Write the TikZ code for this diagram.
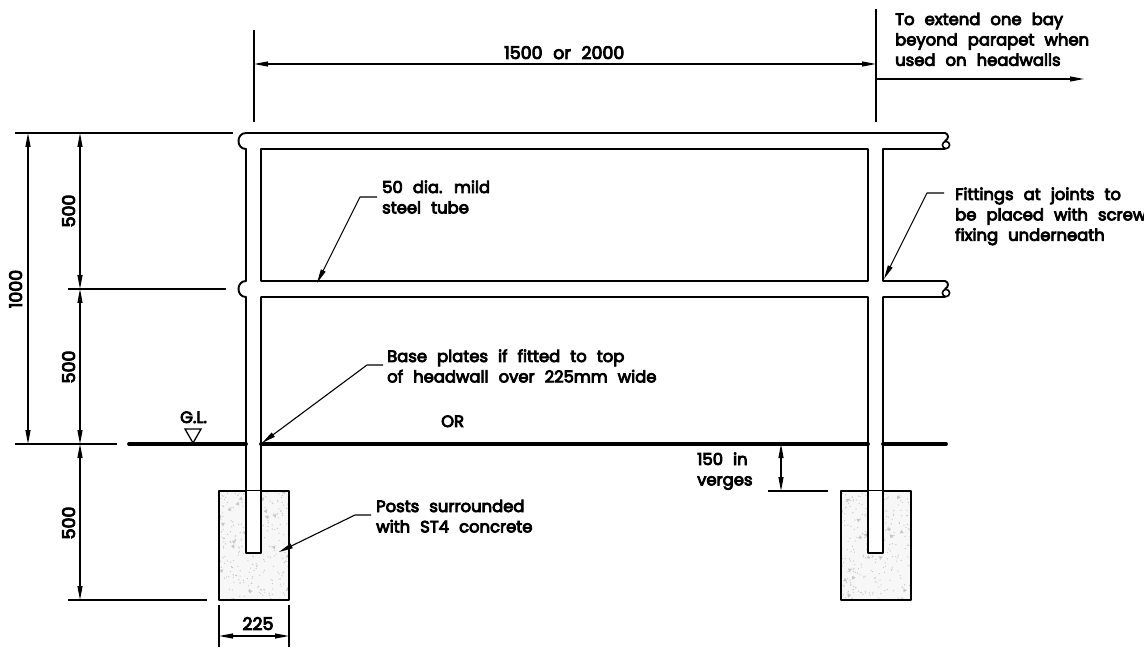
\documentclass[tikz,border=0pt]{standalone}
\usepackage{fontspec}
\setmainfont{Poppins}[WordSpace=2.3,FakeBold=5]
\usetikzlibrary{arrows.meta}
\newcommand{\stackedlines}[1]{\vtop{\baselineskip=20.4pt\lineskiplimit=-20pt #1}}
\newcommand{\stippleblock}[4]{%
  \begin{scope}
    \clip (#1,#2) rectangle (#3,#4);
    \fill[concrete] (#1,#2) rectangle (#3,#4);
    \foreach \k in {1,...,240}{
      \pgfmathsetmacro{\px}{#1+rnd*(#3-#1)}
      \pgfmathsetmacro{\py}{#2+rnd*(#4-#2)}
      \fill[speck] (\px,\py) circle (0.65);
    }
    \foreach \k in {1,...,20}{
      \pgfmathsetmacro{\px}{#1+rnd*(#3-#1)}
      \pgfmathsetmacro{\py}{#2+rnd*(#4-#2)}
      \pgfmathsetmacro{\pa}{rnd*360}
      \fill[speck] (\px,\py) ++(\pa:2.4) -- ++(\pa+120:4) -- ++(\pa+240:4) -- cycle;
    }
  \end{scope}}
\definecolor{concrete}{gray}{0.97}
\definecolor{speck}{gray}{0.78}
\tikzset{
  x=1pt,y=-1pt,
  outline/.style={line width=1.9pt,line join=round,line cap=round,black},
  ground/.style={line width=3.8pt,line cap=round,black},
  thinline/.style={line width=1.1pt,black},
  dimline/.style={line width=1.1pt,black,{Triangle[length=14pt,width=5pt]}-{Triangle[length=14pt,width=5pt]}},
  leader/.style={line width=1.1pt,black,line join=round,-{Triangle[length=14pt,width=5pt]}},
  label/.style={inner sep=0pt,anchor=base west,font=\fontsize{16.4pt}{20pt}\selectfont},
  dimlabel/.style={inner sep=0pt,anchor=base,font=\fontsize{17.4pt}{20pt}\selectfont},
}
\begin{document}
\begin{tikzpicture}
\useasboundingbox (0,0) rectangle (1144,652);
\pgfmathsetseed{4242}
% concrete
\stippleblock{219}{491}{289}{600}
\stippleblock{841}{491}{911}{600}
\draw[outline] (219,491) rectangle (289,600);
\draw[outline] (841,491) rectangle (911,600);
% ground
\coordinate (gA) at (129,444); \coordinate (gB) at (246,444);
\coordinate (gC) at (261,444); \coordinate (gD) at (868,444);
\coordinate (gE) at (883,444); \coordinate (gF) at (946,444);
\draw[ground] (gA) -- (gB) (gC) -- (gD) (gE) -- (gF);
% posts (white interior below ground)
\fill[white] (246,491) rectangle (261,553);
\fill[white] (868,491) rectangle (883,553);
% frame
\draw[outline] (246,149) .. controls (236,149) and (236,133) .. (246,133)
  -- (945,133) .. controls (949,134) and (949,139) .. (945,141);
\draw[outline,line width=1.6pt] (946,145) circle (3.6);
\draw[outline] (246,149) -- (246,281) .. controls (236,281) and (236,297) .. (246,297)
  -- (246,553) -- (261,553) -- (261,297) -- (868,297) -- (868,553) -- (883,553) -- (883,297) -- (945,297);
\draw[outline] (261,149) rectangle (868,281);
\draw[outline] (883,149) -- (883,281) -- (945,281)
  .. controls (949,282) and (949,287) .. (945,289);
\draw[outline,line width=1.6pt] (946,293) circle (3.6);
\draw[outline] (883,149) -- (945,149);
% extension lines
\draw[thinline] (15,133) -- (233,133);
\draw[thinline] (68,289) -- (226,289);
\draw[thinline] (15,444) -- (117,444);
\draw[thinline] (68,600) -- (207,600);
\draw[thinline] (254,30) -- (254,122);
\draw[thinline] (876,9) -- (876,122);
\draw[thinline] (219,605) -- (219,647);
\draw[thinline] (289,605) -- (289,647);
\draw[thinline] (768,491) -- (828,491);
% dimension anchors
\coordinate (dTopL) at (254,64); \coordinate (dTopR) at (876,64);
\coordinate (dExtA) at (876,79); \coordinate (dExtB) at (1084,79);
\coordinate (d1000a) at (28,133); \coordinate (d1000b) at (28,444);
\coordinate (d5a) at (80,133); \coordinate (d5b) at (80,289);
\coordinate (d5c) at (80,444); \coordinate (d5d) at (80,600);
\coordinate (d225a) at (219,636); \coordinate (d225b) at (289,636);
\coordinate (d150a) at (781,444); \coordinate (d150b) at (781,491);
\draw[dimline] (dTopL) -- (dTopR);
\draw[leader] (dExtA) -- (dExtB);
\draw[dimline] (d1000a) -- (d1000b);
\draw[dimline] (d5a) -- (d5b);
\draw[dimline] (d5b) -- (d5c);
\draw[dimline] (d5c) -- (d5d);
\draw[dimline] (d225a) -- (d225b);
\draw[dimline] (d150a) -- (d150b);
% G.L.
\coordinate (glA) at (185,429); \coordinate (glB) at (201,429); \coordinate (glC) at (193,443);
\draw[line width=1.3pt,line join=miter] (glA) -- (glB) -- (glC) -- cycle;
% labels
\node[label] (lbTop) at (504,59) {\fontsize{17.4pt}{20pt}\selectfont 1500 or 2000};
\node[label] (lbBay) at (895,25) {\stackedlines{\hbox{To extend one bay}\hbox{beyond parapet when}\hbox{used on headwalls}}};
\node[label] (lbTube) at (382,193) {\stackedlines{\hbox{50 dia. mild}\hbox{steel tube}}};
\node[label] (lbFit) at (955,200) {\stackedlines{\hbox{Fittings at joints to}\hbox{be placed with screw}\hbox{fixing underneath}}};
\node[label] (lbBase) at (387,362) {\stackedlines{\hbox{Base plates if fitted to top}\hbox{of headwall over 225mm wide}}};
\node[label] (lbOr) at (441,427) {OR};
\node[label] (lbGL) at (180,423) {G.L.};
\node[label] (lbPosts) at (376,512) {\stackedlines{\hbox{Posts surrounded}\hbox{with ST4 concrete}}};
\node[label] (lbVerge) at (697,465) {\stackedlines{\hbox{150 in}\hbox{verges}}};
\node[dimlabel] (lb225) at (258,630) {225};
\node[dimlabel,rotate=90] (lb1000) at (22,289) {1000};
\node[dimlabel,rotate=90] (lb500a) at (75,211) {500};
\node[dimlabel,rotate=90] (lb500b) at (75,367) {500};
\node[dimlabel,rotate=90] (lb500c) at (75,523) {500};
% leaders
\coordinate (tTube) at (317,283); \coordinate (kTube) at (360,197); \coordinate (eTube) at (377,197);
\coordinate (tBase) at (262,443); \coordinate (kBase) at (367,365); \coordinate (eBase) at (383,365);
\coordinate (tPost) at (279,552); \coordinate (kPost) at (355,515); \coordinate (ePost) at (371,515);
\coordinate (tFit) at (884,279); \coordinate (kFit) at (927,193); \coordinate (eFit) at (944,193);
\draw[leader] (eTube) -- (kTube) -- (tTube);
\draw[leader] (eBase) -- (kBase) -- (tBase);
\draw[leader] (ePost) -- (kPost) -- (tPost);
\draw[leader] (eFit) -- (kFit) -- (tFit);
\end{tikzpicture}
\end{document}
